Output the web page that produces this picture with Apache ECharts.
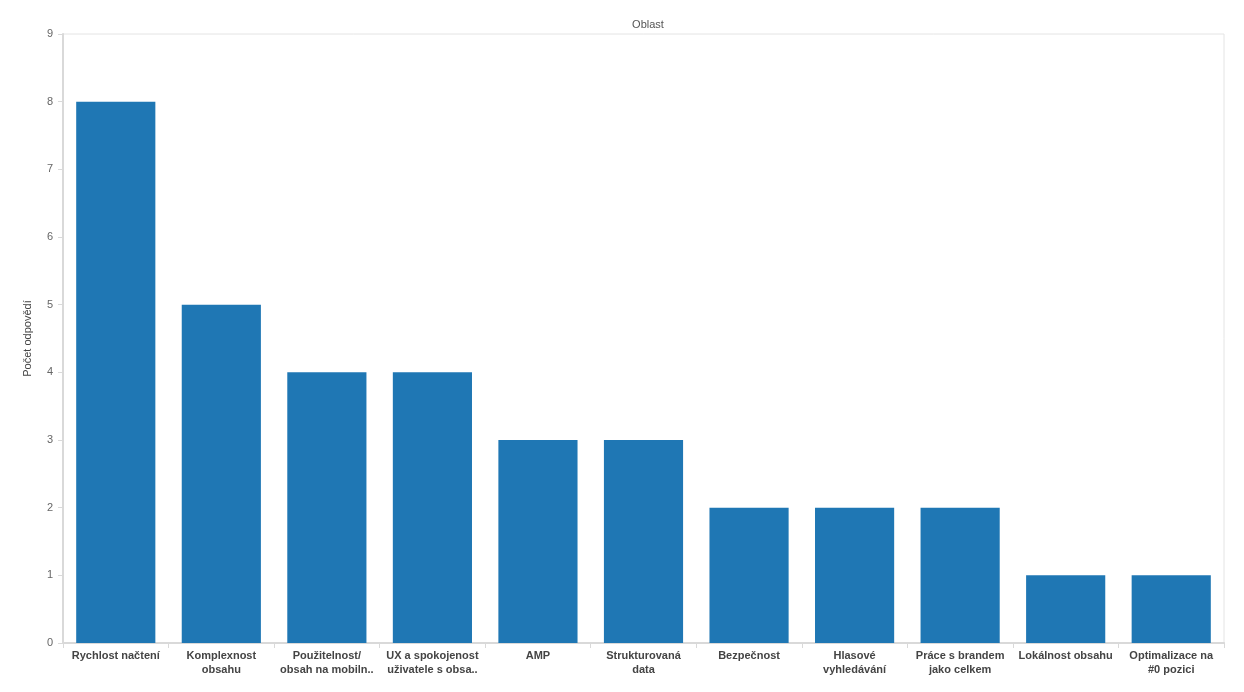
<!DOCTYPE html>
<html><head><meta charset="utf-8">
<script src="https://cdn.jsdelivr.net/npm/echarts@6/dist/echarts.min.js"></script>
<style>html,body{margin:0;background:#fff}#c{width:1244px;height:692px}</style>
</head><body><div id="c"></div>
<script>
var categories = ['Rychlost načtení', 'Komplexnost\nobsahu', 'Použitelnost/\nobsah na mobiln..', 'UX a spokojenost\nuživatele s obsa..', 'AMP', 'Strukturovaná\ndata', 'Bezpečnost', 'Hlasové\nvyhledávání', 'Práce s brandem\njako celkem', 'Lokálnost obsahu', 'Optimalizace na\n#0 pozici'];
var counts = [8, 5, 4, 4, 3, 3, 2, 2, 2, 1, 1];
var yTicks = { min: 0, max: 9, interval: 1 };

var chart = echarts.init(document.getElementById('c'));
chart.setOption({
    animation: false,
    title: { text: 'Oblast', left: 643, top: 14, textAlign: 'center',
        textStyle: { fontSize: 11, fontWeight: 'normal', color: '#555', fontFamily: 'Arial' } },
    grid: { left: 63, right: 20, top: 34, bottom: 49, show: true, borderColor: '#e4e4e4', borderWidth: 1 },
    xAxis: {
        type: 'category', data: categories,
        axisLine: { lineStyle: { color: '#d9d9d9', width: 2 } },
        axisTick: { show: true, length: 5, lineStyle: { color: '#d9d9d9' } },
        axisLabel: { interval: 0, color: '#444', fontWeight: 'bold', fontSize: 11, fontFamily: 'Arial', lineHeight: 14, margin: 6 }
    },
    yAxis: {
        type: 'value', min: yTicks.min, max: yTicks.max, interval: yTicks.interval,
        name: 'Počet odpovědí', nameLocation: 'middle', nameGap: 30,
        nameTextStyle: { fontSize: 11, color: '#444', fontFamily: 'Arial' },
        splitLine: { show: false },
        axisLine: { show: true, lineStyle: { color: '#d9d9d9', width: 2 } },
        axisTick: { show: true, length: 5, lineStyle: { color: '#d9d9d9' } },
        axisLabel: { color: '#666', fontSize: 11, fontFamily: 'Arial', margin: 10 }
    },
    series: [{
        type: 'bar', data: counts, barCategoryGap: '25%',
        itemStyle: { color: '#1f77b4' }
    }]
});
</script></body></html>
